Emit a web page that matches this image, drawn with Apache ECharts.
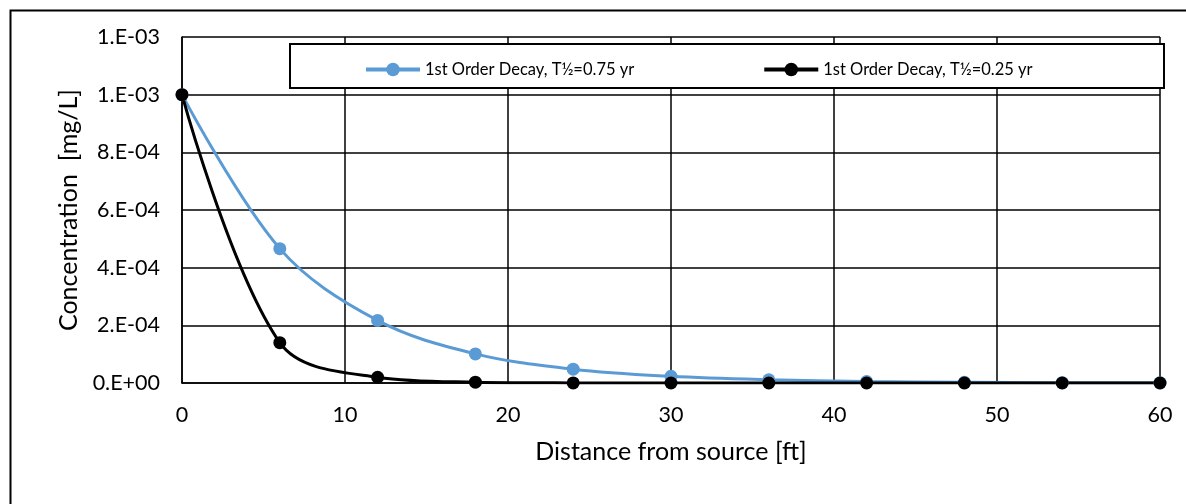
<!DOCTYPE html>
<html>
<head>
<meta charset="utf-8">
<script src="https://cdn.jsdelivr.net/npm/echarts@6/dist/echarts.min.js"></script>
<style>
html,body{margin:0;padding:0;background:#fff;}
#c{width:1186px;height:504px;}
</style>
</head>
<body>
<div id="c"></div>
<script>
var distances = [0, 6, 12, 18, 24, 30, 36, 42, 48, 54, 60];
var seriesNames = ['1st Order Decay, T½=0.75 yr', '1st Order Decay, T½=0.25 yr'];
var decay075 = [1.0e-3, 4.66e-4, 2.17e-4, 1.01e-4, 4.8e-5, 2.3e-5, 1.1e-5, 5.0e-6, 2.3e-6, 1.1e-6, 5.0e-7];
var decay025 = [1.0e-3, 1.40e-4, 2.0e-5, 2.9e-6, 4.0e-7, 6.0e-8, 8.0e-9, 1.0e-9, 1.0e-10, 2.0e-11, 3.0e-12];
var xTickLabels = ['0', '10', '20', '30', '40', '50', '60'];
var yTickValues = [0, 2e-4, 4e-4, 6e-4, 8e-4, 1e-3, 1.2e-3];
var yTickLabels = ['0.E+00', '2.E-04', '4.E-04', '6.E-04', '8.E-04', '1.E-03', '1.E-03'];

var FONT = 'Lato';
function pairs(ys){ return distances.map(function(x,i){ return [x, ys[i]]; }); }
function yLabel(v){
  for (var i=0;i<yTickValues.length;i++){ if (Math.abs(v-yTickValues[i])<1e-9) return yTickLabels[i]; }
  return '';
}
function xLabel(v){
  var i = Math.round(v/10);
  return xTickLabels[i] !== undefined ? xTickLabels[i] : '';
}

var chart = echarts.init(document.getElementById('c'), null, {renderer:'canvas'});
chart.setOption({
  animation: false,
  backgroundColor: '#fff',
  textStyle: {fontFamily: FONT},
  grid: {left: 182, right: 26, top: 37, bottom: 121, containLabel: false},
  graphic: [
    {type:'rect', left: 8, top: 8, shape:{width: 1300, height: 600}, style:{fill:'none', stroke:'#000', lineWidth:2}, z: 10, silent:true},
    {type:'rect', left: 289, top: 43, shape:{width: 874, height: 44}, style:{fill:'#fff', stroke:'#000', lineWidth:2}, z: 3, silent:true}
  ],
  legend: {
    data: seriesNames,
    left: 359, top: 56,
    itemGap: 128,
    itemWidth: 54, itemHeight: 17,
    z: 5,
    lineStyle: {width: 4},
    textStyle: {fontFamily: FONT, fontSize: 16.5, color: '#000'}
  },
  xAxis: {
    type: 'value', min: 0, max: 60, interval: 10,
    name: 'Distance from source [ft]', nameLocation: 'middle', nameGap: 56,
    nameTextStyle: {fontFamily: FONT, fontSize: 25, color: '#000'},
    axisLine: {show: true, lineStyle: {color: '#000', width: 1.5}},
    axisTick: {show: false},
    axisLabel: {color: '#000', fontSize: 21.5, fontFamily: FONT, margin: 21, formatter: xLabel},
    splitLine: {show: true, lineStyle: {color: '#000', width: 1.5}}
  },
  yAxis: {
    type: 'value', min: 0, max: 1.2e-3, interval: 2e-4,
    name: 'Concentration  [mg/L]', nameLocation: 'middle', nameGap: 96, nameRotate: 90,
    nameTextStyle: {fontFamily: FONT, fontSize: 25, color: '#000'},
    axisLine: {show: true, lineStyle: {color: '#000', width: 1.5}},
    axisTick: {show: false},
    axisLabel: {color: '#000', fontSize: 21.5, fontFamily: FONT, margin: 22, formatter: yLabel},
    splitLine: {show: true, lineStyle: {color: '#000', width: 1.5}}
  },
  series: [
    {name: seriesNames[0], type: 'line', data: pairs(decay075), smooth: 0.35,
     symbol: 'circle', symbolSize: 13, color: '#5b9bd5',
     lineStyle: {width: 3, color: '#5b9bd5'}, itemStyle: {color: '#5b9bd5'}, z: 2},
    {name: seriesNames[1], type: 'line', data: pairs(decay025), smooth: 0.35,
     symbol: 'circle', symbolSize: 13, color: '#000',
     lineStyle: {width: 3, color: '#000'}, itemStyle: {color: '#000'}, z: 2}
  ]
});
</script>
</body>
</html>
